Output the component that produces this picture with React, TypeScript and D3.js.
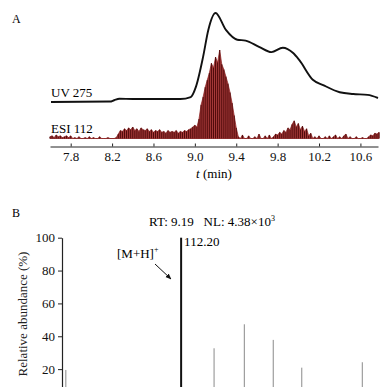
import { useEffect, useRef } from "react";
import * as d3 from "d3";

// UV 275 trace: time (min) and relative intensity
const uvTime = [7.61, 8.18, 8.22, 8.27, 8.4, 8.86, 8.96, 9.01, 9.08, 9.13, 9.2, 9.3, 9.41, 9.49, 9.62, 9.74, 9.85, 9.95, 10.01, 10.14, 10.24, 10.4, 10.53, 10.67, 10.77];
const uvValue = [0, 0.5, 2, 3.7, 3.4, 3.4, 5.6, 17, 51, 81, 100, 81, 70, 69, 62, 56, 61, 55, 47, 25, 19, 11, 9, 8, 4.5];

// ESI 112 extracted ion trace, sampled every 0.02 min from 7.60
const esiStart = 7.6;
const esiStep = 0.02;
const esiValue = [
  2, 3, 1, 4, 2, 3, 1, 2, 3, 1,
  3, 0, 1, 0, 2, 0, 0, 1, 0, 2,
  0, 1, 0, 0, 2, 0, 0, 0, 1, 0,
  0, 0, 1, 5, 9, 8, 11, 9, 12, 10,
  13, 9, 11, 8, 12, 10, 9, 11, 8, 10,
  7, 9, 8, 10, 7, 8, 6, 9, 7, 8,
  7, 9, 6, 8, 7, 9, 8, 10, 11, 13,
  15, 13, 22, 38, 47, 58, 66, 74, 85, 80,
  92, 86, 100, 84, 78, 70, 62, 52, 40, 26,
  12, 2, 0, 4, 0, 0, 3, 0, 0, 2,
  0, 5, 0, 0, 3, 0, 4, 0, 2, 5,
  4, 7, 5, 9, 7, 12, 10, 16, 20, 13,
  17, 10, 14, 8, 11, 3, 6, 0, 2, 0,
  3, 0, 0, 2, 0, 3, 0, 2, 4, 0,
  2, 0, 3, 5, 0, 2, 0, 0, 2, 0,
  0, 1, 0, 0, 2, 4, 3, 6, 5, 7,
];
const timeTicks = [7.8, 8.2, 8.6, 9.0, 9.4, 9.8, 10.2, 10.6];

// mass spectrum at RT 9.19
const mz = [52.0, 112.2, 129.4, 145.2, 160.3, 175.2, 206.8];
const abundance = [19.5, 100, 32.7, 47.3, 37.8, 20.9, 24.2];
const abundanceTicks = [20, 40, 60, 80, 100];

const FONT = "Liberation Serif, Times New Roman, serif";

export default function App() {
  const ref = useRef<SVGSVGElement | null>(null);

  useEffect(() => {
    if (!ref.current) return;
    ref.current.innerHTML = "";
    const svg = d3.select(ref.current).style("font-family", FONT);

    // ---------- panel A ----------
    const x = d3.scaleLinear().domain([7.6, 10.77]).range([50, 378]);
    const yUV = d3.scaleLinear().domain([0, 100]).range([102, 13]);
    const yESI = d3.scaleLinear().domain([0, 100]).range([138.5, 50]);

    svg.append("text").attr("x", 12).attr("y", 23).attr("font-size", 12).text("A");

    // ESI baseline
    svg
      .append("line")
      .attr("x1", x(7.6))
      .attr("x2", x(10.77))
      .attr("y1", yESI(0))
      .attr("y2", yESI(0))
      .attr("stroke", "#e0a8a8")
      .attr("stroke-width", 1);

    const esiData = esiValue.map((v, i) => ({ t: esiStart + i * esiStep, v }));
    // filled trace
    svg
      .append("path")
      .datum(esiData)
      .attr("fill", "#a63a3a")
      .attr("stroke", "#8a2020")
      .attr("stroke-width", 0.7)
      .attr(
        "d",
        d3
          .area<(typeof esiData)[number]>()
          .x((d) => x(d.t))
          .y0(yESI(0))
          .y1((d) => yESI(d.v))
      );
    // dark scan sticks
    svg
      .append("g")
      .selectAll("line")
      .data(esiData)
      .enter()
      .append("line")
      .attr("x1", (d) => x(d.t))
      .attr("x2", (d) => x(d.t))
      .attr("y1", yESI(0))
      .attr("y2", (d) => yESI(d.v))
      .attr("stroke", "#4e0a0a")
      .attr("stroke-width", 1);

    const uvData = uvTime.map((t, i) => ({ t, v: uvValue[i] }));
    svg
      .append("path")
      .datum(uvData)
      .attr("fill", "none")
      .attr("stroke", "#111")
      .attr("stroke-width", 1.9)
      .attr(
        "d",
        d3
          .line<(typeof uvData)[number]>()
          .curve(d3.curveMonotoneX)
          .x((d) => x(d.t))
          .y((d) => yUV(d.v))
      );

    svg.append("text").attr("x", 51).attr("y", 97).attr("font-size", 13).text("UV 275");
    svg.append("text").attr("x", 51).attr("y", 133).attr("font-size", 13).text("ESI 112");

    // X axis
    const xAxis = svg
      .append("g")
      .attr("transform", "translate(0,146.5)")
      .call(
        d3
          .axisBottom(x)
          .tickValues(timeTicks)
          .tickSize(-3)
          .tickSizeOuter(0)
          .tickPadding(5)
          .tickFormat((d) => d3.format(".1f")(d as number))
      );
    xAxis.attr("font-family", null);
    xAxis.select(".domain").attr("stroke", "#222");
    xAxis.selectAll(".tick line").attr("stroke", "#222");
    xAxis.selectAll("text").attr("font-size", 13).style("font-family", FONT).attr("fill", "#111");

    const xt = svg
      .append("text")
      .attr("x", 214)
      .attr("y", 178)
      .attr("text-anchor", "middle")
      .attr("font-size", 13);
    xt.append("tspan").attr("font-style", "italic").text("t");
    xt.append("tspan").text(" (min)");

    // ---------- panel B ----------
    const xm = d3.scaleLinear().domain([50, 215]).range([62, 378]);
    const ya = d3.scaleLinear().domain([0, 100]).range([402, 237.7]);

    svg.append("text").attr("x", 12).attr("y", 217).attr("font-size", 12).text("B");

    const title = svg
      .append("text")
      .attr("x", 212)
      .attr("y", 226)
      .attr("text-anchor", "middle")
      .attr("font-size", 13);
    title.append("tspan").text("RT: 9.19\u00a0\u00a0\u00a0NL: 4.38\u00d710");
    title.append("tspan").attr("font-size", 8).attr("dy", -5).text("3");

    const yAxis = svg
      .append("g")
      .attr("transform", `translate(${xm(50)},0)`)
      .call(
        d3
          .axisLeft(ya)
          .tickValues(abundanceTicks)
          .tickSize(4)
          .tickSizeOuter(0)
          .tickPadding(3)
      );
    yAxis.attr("font-family", null);
    yAxis.select(".domain").attr("stroke", "#222").attr("stroke-width", 1.2);
    yAxis.selectAll(".tick line").attr("stroke", "#222");
    yAxis.selectAll("text").attr("font-size", 13).style("font-family", FONT).attr("fill", "#111");

    svg
      .append("text")
      .attr("transform", "translate(27,314) rotate(-90)")
      .attr("text-anchor", "middle")
      .attr("font-size", 13)
      .attr("fill", "#222")
      .text("Relative abundance (%)");

    svg
      .append("g")
      .selectAll("line")
      .data(mz)
      .enter()
      .append("line")
      .attr("x1", (d) => xm(d))
      .attr("x2", (d) => xm(d))
      .attr("y1", ya(0))
      .attr("y2", (_, i) => ya(abundance[i]))
      .attr("stroke", (_, i) => (abundance[i] === 100 ? "#111" : "#8a8a8a"))
      .attr("stroke-width", (_, i) => (abundance[i] === 100 ? 2 : 1));

    svg
      .append("text")
      .attr("x", xm(112.2) + 3)
      .attr("y", 246)
      .attr("font-size", 13)
      .text("112.20");

    const mh = svg.append("text").attr("x", 117).attr("y", 258).attr("font-size", 13);
    mh.append("tspan").text("[M+H]");
    mh.append("tspan").attr("font-size", 8).attr("dy", -6).text("+");

    svg
      .append("defs")
      .append("marker")
      .attr("id", "arrow")
      .attr("viewBox", "0 0 10 10")
      .attr("refX", 9)
      .attr("refY", 5)
      .attr("markerWidth", 6)
      .attr("markerHeight", 6)
      .attr("orient", "auto")
      .append("path")
      .attr("d", "M0,1 L10,5 L0,9 z")
      .attr("fill", "#111");

    svg
      .append("line")
      .attr("x1", 155)
      .attr("y1", 264)
      .attr("x2", 171)
      .attr("y2", 279)
      .attr("stroke", "#111")
      .attr("stroke-width", 1)
      .attr("marker-end", "url(#arrow)");
  }, []);

  return (
    <svg
      ref={ref}
      width={384}
      height={387}
      style={{ position: "absolute", left: 0, top: 0, background: "#fff" }}
    />
  );
}
